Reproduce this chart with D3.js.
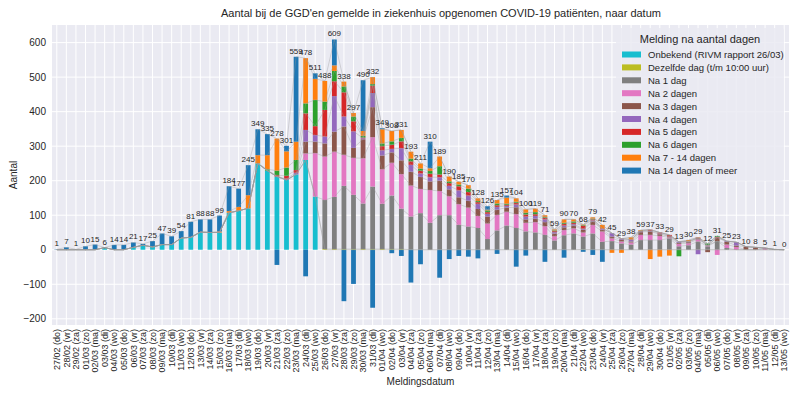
<!DOCTYPE html>
<html>
<head>
<meta charset="utf-8">
<script src="https://cdn.jsdelivr.net/npm/d3@7"></script>
<style>
  body { margin: 0; background: #fff; }
  text { font-family: "Liberation Sans", Arial, sans-serif; fill: #262626; }
</style>
</head>
<body>
<div id="chart"></div>
<script>
// Dates on the x axis
var dates = ["27/02 (do)","28/02 (vr)","29/02 (za)","01/03 (zo)","02/03 (ma)","03/03 (di)","04/03 (wo)","05/03 (do)","06/03 (vr)","07/03 (za)",
  "08/03 (zo)","09/03 (ma)","10/03 (di)","11/03 (wo)","12/03 (do)","13/03 (vr)","14/03 (za)","15/03 (zo)","16/03 (ma)","17/03 (di)",
  "18/03 (wo)","19/03 (do)","20/03 (vr)","21/03 (za)","22/03 (zo)","23/03 (ma)","24/03 (di)","25/03 (wo)","26/03 (do)","27/03 (vr)",
  "28/03 (za)","29/03 (zo)","30/03 (ma)","31/03 (di)","01/04 (wo)","02/04 (do)","03/04 (vr)","04/04 (za)","05/04 (zo)","06/04 (ma)",
  "07/04 (di)","08/04 (wo)","09/04 (do)","10/04 (vr)","11/04 (za)","12/04 (zo)","13/04 (ma)","14/04 (di)","15/04 (wo)","16/04 (do)",
  "17/04 (vr)","18/04 (za)","19/04 (zo)","20/04 (ma)","21/04 (di)","22/04 (wo)","23/04 (do)","24/04 (vr)","25/04 (za)","26/04 (zo)",
  "27/04 (ma)","28/04 (di)","29/04 (wo)","30/04 (do)","01/05 (vr)","02/05 (za)","03/05 (zo)","04/05 (ma)","05/05 (di)","06/05 (wo)",
  "07/05 (do)","08/05 (vr)","09/05 (za)","10/05 (zo)","11/05 (ma)","12/05 (di)","13/05 (wo)"];

// Numbers printed above the bars
var totals = [1,7,1,10,15,6,14,14,21,17,25,47,39,54,81,88,88,99,184,177,
  245,349,335,278,301,559,478,511,488,609,338,297,490,332,349,308,331,193,211,310,
  189,190,185,170,128,126,135,157,104,100,119,71,59,90,70,68,79,42,45,29,
  38,59,37,33,29,13,30,29,12,31,25,23,10,8,5,1,0];

// One array per delay category (bottom to top of the stack)
var onbekend = [0,0,0,0,0,6,0,0,7,13,8,15,15,34,36,51,50,50,107,113,
  120,250,229,212,202,218,260,154,0,0,0,0,0,0,0,0,0,0,0,0,
  0,0,0,0,0,0,0,0,0,0,0,0,0,0,0,0,0,0,0,0,
  0,0,0,0,0,0,0,0,0,0,0,0,0,0,0,0,0];
var zelfdeDag = [0,0,0,0,0,0,0,0,0,0,0,0,0,0,0,0,0,0,0,0,
  0,0,0,0,0,0,0,0,2,2,2,2,2,2,2,2,2,0,0,0,
  0,0,0,0,0,0,0,0,0,0,0,0,0,0,0,1,0,0,0,0,
  0,0,0,0,0,0,0,0,0,0,0,0,0,0,0,0,0];
var na1 = [0,0,0,0,0,0,0,0,0,0,0,0,0,0,0,0,0,0,0,0,
  0,0,0,0,0,0,0,0,142,151,183,157,132,181,131,155,117,96,106,78,
  100,100,72,67,63,31,56,70,63,53,50,43,27,42,47,37,47,23,25,18,
  15,28,28,28,33,10,13,24,10,25,5,0,0,0,0,0,0];
var na2 = [0,0,0,0,0,0,0,0,0,0,0,0,0,0,0,0,0,0,0,0,
  0,0,0,0,0,0,19,126,126,131,90,107,131,143,100,95,100,90,70,95,
  70,55,60,55,35,45,45,40,40,25,30,25,12,15,15,12,25,30,8,6,
  6,15,15,12,3,7,6,6,3,-15,10,8,0,0,5,0,0];
var na3 = [0,0,0,0,0,0,0,0,0,0,0,0,0,0,0,0,0,0,0,0,
  0,0,0,0,0,0,34,33,38,58,82,29,55,87,40,30,40,40,35,25,
  30,20,20,20,20,20,15,12,20,10,10,12,8,8,8,8,10,5,5,5,
  3,8,10,5,3,3,3,3,-7,10,8,4,9,7,0,1,0];
var na4 = [0,0,0,0,0,0,0,0,0,0,0,0,0,0,0,0,0,0,0,0,
  0,0,0,0,4,5,34,19,20,103,29,48,3,41,15,10,35,20,10,12,
  10,10,20,15,15,8,8,5,8,8,8,8,4,5,4,3,3,2,10,2,
  5,2,2,2,0,3,2,-13,0,0,2,10,0,0,0,0,0];
var na5 = [0,0,0,0,0,0,0,0,0,0,0,0,0,0,0,0,0,0,0,0,
  0,0,0,4,8,8,48,26,77,43,70,29,2,21,12,12,20,10,8,10,
  8,8,12,10,5,5,5,3,5,6,5,5,3,5,4,8,3,2,0,1,
  1,1,3,3,4,0,0,2,0,2,0,0,0,0,0,0,0];
var na6 = [0,0,0,0,0,0,0,0,0,0,0,0,0,0,0,0,0,0,0,0,
  0,0,4,13,24,29,29,76,24,30,17,14,5,5,8,10,10,8,6,8,
  24,5,5,10,3,5,5,3,3,5,6,2,2,3,4,2,2,0,0,0,
  0,1,0,0,0,-19,0,0,5,3,0,0,0,0,0,0,0];
var na7tot14 = [0,0,0,0,0,0,0,0,0,0,0,0,0,0,0,0,0,3,5,11,
  38,24,41,93,47,53,131,61,60,16,14,10,14,20,41,30,23,20,15,8,
  28,14,8,10,8,2,10,18,10,10,10,5,3,10,6,2,4,10,-9,-9,
  6,2,-27,-20,-17,0,4,1,0,0,0,0,0,0,0,0,0];
var na14plus = [1,7,1,10,15,0,14,14,14,4,17,32,24,20,45,37,38,46,72,53,
  87,75,61,-44,16,246,-77,16,0,75,-149,-99,147,-168,3,-10,-18,-95,-42,77,
  -81,-27,-18,-20,-25,10,-12,6,-49,-17,0,-35,0,-23,0,-6,-15,-35,0,0,
  0,0,0,0,0,0,0,0,0,0,0,0,0,0,0,0,0];

var seriesNames = ["Onbekend (RIVM rapport 26/03)", "Dezelfde dag (t/m 10:00 uur)", "Na 1 dag", "Na 2 dagen",
  "Na 3 dagen", "Na 4 dagen", "Na 5 dagen", "Na 6 dagen", "Na 7 - 14 dagen", "Na 14 dagen of meer"];
var seriesValues = [onbekend, zelfdeDag, na1, na2, na3, na4, na5, na6, na7tot14, na14plus];
var colors = ["#17becf", "#bcbd22", "#7f7f7f", "#e377c2", "#8c564b", "#9467bd", "#d62728", "#2ca02c", "#ff7f0e", "#1f77b4"];

// Canvas
var W = 800, H = 397;
var margin = { top: 25, right: 11, bottom: 72, left: 52 },
    width = W - margin.left - margin.right,
    height = H - margin.top - margin.bottom;

var svg = d3.select("#chart").append("svg")
    .attr("width", W).attr("height", H);

var g = svg.append("g")
    .attr("transform", "translate(" + margin.left + "," + margin.top + ")");

// Table for the stack
var table = dates.map(function (d, i) {
    var row = { date: d };
    seriesNames.forEach(function (k, j) { row[k] = seriesValues[j][i]; });
    return row;
});

var stacked = d3.stack().keys(seriesNames).offset(d3.stackOffsetDiverging)(table);

var x = d3.scaleBand().domain(dates).range([0, width]).paddingInner(0.5).paddingOuter(0.25);
var y = d3.scaleLinear().domain([-218, 651]).range([height, 0]);

// Background and grid
g.append("rect").attr("width", width).attr("height", height).attr("fill", "#eaeaf2");

g.selectAll(".hgrid").data(y.ticks(8)).enter().append("line")
    .attr("x1", 0).attr("x2", width)
    .attr("y1", function (d) { return y(d); }).attr("y2", function (d) { return y(d); })
    .attr("stroke", "#fff").attr("stroke-width", 1);

g.selectAll(".vgrid").data(dates).enter().append("line")
    .attr("x1", function (d) { return x(d) + x.bandwidth() / 2; })
    .attr("x2", function (d) { return x(d) + x.bandwidth() / 2; })
    .attr("y1", 0).attr("y2", height)
    .attr("stroke", "#fff").attr("stroke-width", 1);

// Bars
g.selectAll(".layer").data(stacked).enter().append("g")
    .attr("fill", function (d, i) { return colors[i]; })
    .selectAll("rect").data(function (d) { return d; }).enter().append("rect")
    .attr("x", function (d) { return x(d.data.date); })
    .attr("width", x.bandwidth())
    .attr("y", function (d) { return y(Math.max(d[0], d[1])); })
    .attr("height", function (d) { return Math.abs(y(d[0]) - y(d[1])); });

// Thin grey lines joining the cumulative heights of each layer
var cum = dates.map(function () { return 0; });
var lineGen = d3.line()
    .x(function (d) { return x(d.date) + x.bandwidth() / 2; })
    .y(function (d) { return y(d.v); });
seriesValues.forEach(function (vals) {
    cum = cum.map(function (c, i) { return c + Math.max(vals[i], 0); });
    var pts = dates.map(function (d, i) { return { date: d, v: cum[i] }; });
    g.append("path").datum(pts)
        .attr("d", lineGen)
        .attr("fill", "none")
        .attr("stroke", "#9a9a9a")
        .attr("stroke-opacity", 0.45)
        .attr("stroke-width", 0.8);
});

// Value labels
g.selectAll(".bar-label").data(dates).enter().append("text")
    .attr("class", "bar-label")
    .attr("x", function (d) { return x(d) + x.bandwidth() / 2; })
    .attr("y", function (d, i) { return y(cum[i]) - 3; })
    .attr("text-anchor", "middle")
    .attr("font-size", "8px")
    .text(function (d, i) { return totals[i]; });

// Axes
var yAxis = g.append("g").call(d3.axisLeft(y).ticks(8).tickSize(0).tickPadding(6));
yAxis.select(".domain").remove();
yAxis.selectAll("text").attr("font-size", "10px").attr("fill", "#262626")
    .style("font-family", "Liberation Sans, Arial, sans-serif");

var xAxis = g.append("g").attr("transform", "translate(0," + height + ")")
    .call(d3.axisBottom(x).tickSize(0).tickPadding(4));
xAxis.select(".domain").remove();
xAxis.selectAll("text")
    .attr("font-size", "9px").attr("fill", "#262626")
    .style("font-family", "Liberation Sans, Arial, sans-serif")
    .attr("transform", "rotate(-90)")
    .attr("text-anchor", "end")
    .attr("dy", "0.35em")
    .attr("y", 0).attr("x", -4);

// Titles
svg.append("text").attr("x", 441).attr("y", 17)
    .attr("text-anchor", "middle").attr("font-size", "11px")
    .text("Aantal bij de GGD'en gemelde in ziekenhuis opgenomen COVID-19 patiënten, naar datum");

svg.append("text").attr("x", margin.left + width / 2).attr("y", 385)
    .attr("text-anchor", "middle").attr("font-size", "10px")
    .text("Meldingsdatum");

svg.append("text").attr("transform", "translate(17," + (margin.top + height / 2) + ")rotate(-90)")
    .attr("text-anchor", "middle").attr("font-size", "10px")
    .text("Aantal");

// Legend
var legend = g.append("g").attr("transform", "translate(" + (width - 173) + ",3)");
legend.append("rect").attr("width", 168).attr("height", 153).attr("rx", 3)
    .attr("fill", "#eaeaf2").attr("fill-opacity", 0.85);
legend.append("text").attr("x", 84).attr("y", 15).attr("text-anchor", "middle")
    .attr("font-size", "11px").text("Melding na aantal dagen");
var items = legend.selectAll(".item").data(seriesNames).enter().append("g")
    .attr("transform", function (d, i) { return "translate(0," + (23.5 + i * 12.9) + ")"; });
items.append("rect").attr("x", 6).attr("width", 19).attr("height", 6)
    .attr("fill", function (d, i) { return colors[i]; });
items.append("text").attr("x", 32).attr("y", 6.5).attr("font-size", "9.5px")
    .text(function (d) { return d; });
</script>
</body>
</html>
